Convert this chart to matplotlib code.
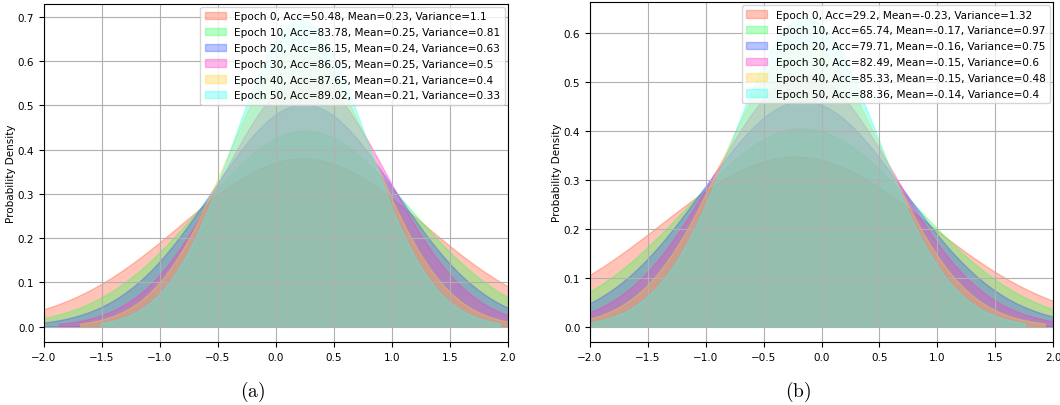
import numpy as np
import matplotlib.pyplot as plt

plt.rcParams['mathtext.fontset'] = 'cm'

epochs = [0, 10, 20, 30, 40, 50]
colors = ['#FF5733', '#33FF57', '#3357FF', '#FF33C4', '#FFD133', '#33FFF0']

acc_a = [50.48, 83.78, 86.15, 86.05, 87.65, 89.02]
mean_a = [0.23, 0.25, 0.24, 0.25, 0.21, 0.21]
var_a = [1.1, 0.81, 0.63, 0.5, 0.4, 0.33]

acc_b = [29.2, 65.74, 79.71, 82.49, 85.33, 88.36]
mean_b = [-0.23, -0.17, -0.16, -0.15, -0.15, -0.14]
var_b = [1.32, 0.97, 0.75, 0.6, 0.48, 0.4]


def draw(ax, accs, means, vars_):
    for ep, acc, mu, var, c in zip(epochs, accs, means, vars_, colors):
        sd = np.sqrt(var)
        x = np.linspace(mu - 3 * sd, mu + 3 * sd, 500)
        y = np.exp(-(x - mu) ** 2 / (2 * var)) / np.sqrt(2 * np.pi * var)
        ax.fill_between(x, y, color=c, alpha=0.35,
                        label=f"Epoch {ep}, Acc={acc}, Mean={mu}, Variance={var}")
    ax.set_xlim(-2, 2)
    ax.set_ylabel("Probability Density", fontsize=7.5, labelpad=1.5)
    ax.tick_params(labelsize=7.5)
    ax.grid(True, color='#b0b0b0', linewidth=0.8)
    ax.legend(loc='upper right', fontsize=7.6, borderaxespad=0.3,
              handlelength=2.0, labelspacing=0.55)


fig = plt.figure(figsize=(10.6, 4.06), dpi=100)
ax1 = fig.add_axes([0.0415, 0.155, 0.4375, 0.8325])
ax2 = fig.add_axes([0.5566, 0.155, 0.4368, 0.837])

draw(ax1, acc_a, mean_a, var_a)
draw(ax2, acc_b, mean_b, var_b)

fig.text(253 / 1060, 14 / 406, r'$\mathrm{(a)}$', fontsize=14, ha='center', va='center')
fig.text(798 / 1060, 14 / 406, r'$\mathrm{(b)}$', fontsize=14, ha='center', va='center')

fig.savefig("out.png", dpi=100)
